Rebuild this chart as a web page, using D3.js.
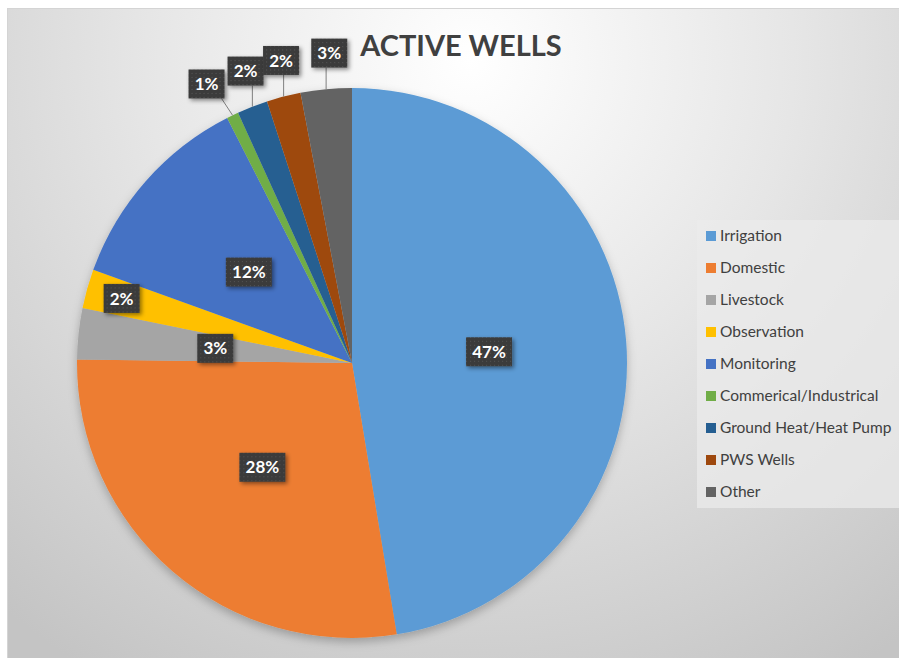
<!DOCTYPE html>
<html>
<head>
<meta charset="utf-8">
<script src="https://cdn.jsdelivr.net/npm/d3@7"></script>
<style>
  html, body { margin: 0; padding: 0; background: #fff; }
  svg { display: block; }
</style>
</head>
<body>
<div id="chart"></div>
<script>
// data (shares in %)
const categories = ["Irrigation", "Domestic", "Livestock", "Observation", "Monitoring",
  "Commerical/Industrical", "Ground Heat/Heat Pump", "PWS Wells", "Other"];
const shares = [47.4, 27.8, 3.0, 2.3, 12.0, 0.7, 1.8, 2.0, 3.0];
const labelTexts = ["47%", "28%", "3%", "2%", "12%", "1%", "2%", "2%", "3%"];
const colors = ["#5B9BD5", "#ED7D31", "#A5A5A5", "#FFC000", "#4472C4",
  "#70AD47", "#255E91", "#9E480E", "#636363"];
// where excel put each data label
const labelPlacement = ["in", "in", "in", "edge", "in", "out", "out", "out", "out"];

const W = 899, H = 658;
const cx = 352, cy = 363, R = 275;

const svg = d3.select("#chart").append("svg")
  .attr("width", W).attr("height", H);

const defs = svg.append("defs");

const bg = defs.append("radialGradient").attr("id", "bg")
  .attr("gradientUnits", "userSpaceOnUse")
  .attr("cx", 470).attr("cy", 60).attr("r", 720);
bg.append("stop").attr("offset", "0%").attr("stop-color", "#ffffff");
bg.append("stop").attr("offset", "45%").attr("stop-color", "#e6e6e6");
bg.append("stop").attr("offset", "100%").attr("stop-color", "#c4c4c4");

const shadow = defs.append("filter").attr("id", "shadow")
  .attr("x", "-20%").attr("y", "-20%").attr("width", "150%").attr("height", "150%");
shadow.append("feDropShadow").attr("dx", 2).attr("dy", 2)
  .attr("stdDeviation", 2).attr("flood-color", "#000").attr("flood-opacity", 0.45);

const pieShadow = defs.append("filter").attr("id", "pieShadow")
  .attr("x", "-10%").attr("y", "-10%").attr("width", "120%").attr("height", "125%");
pieShadow.append("feDropShadow").attr("dx", 0).attr("dy", 4)
  .attr("stdDeviation", 5).attr("flood-color", "#000").attr("flood-opacity", 0.25);

// dotted texture of the label boxes
const pat = defs.append("pattern").attr("id", "dots")
  .attr("width", 4).attr("height", 4).attr("patternUnits", "userSpaceOnUse");
pat.append("rect").attr("width", 4).attr("height", 4).attr("fill", "#3b3b3b");
pat.append("rect").attr("x", 1).attr("y", 1).attr("width", 1).attr("height", 1).attr("fill", "#555");

// chart area
svg.append("rect")
  .attr("x", 7.5).attr("y", 8.5).attr("width", W).attr("height", H)
  .attr("fill", "url(#bg)").attr("stroke", "#d4d4d4");

// title
svg.append("text")
  .attr("x", 461).attr("y", 56)
  .attr("text-anchor", "middle")
  .style("font-family", "Lato, 'Open Sans', sans-serif")
  .style("font-weight", "700")
  .style("font-size", "29px")
  .attr("fill", "#404040")
  .text("ACTIVE WELLS");

const pie = d3.pie().sort(null).value(d => d);
const arcs = pie(shares);
const arc = d3.arc().innerRadius(0).outerRadius(R);

const g = svg.append("g").attr("transform", `translate(${cx},${cy})`);

g.append("g").attr("filter", "url(#pieShadow)")
  .selectAll("path")
  .data(arcs)
  .enter()
  .append("path")
  .attr("d", arc)
  .attr("fill", (d, i) => colors[i]);

// label positions
const mid = d => (d.startAngle + d.endAngle) / 2;
const polar = (a, r) => [Math.sin(a) * r, -Math.cos(a) * r];

const boxH = 29;
const boxW = t => t.length * 10 + 16;

let labels = arcs.map((d, i) => {
  const mode = labelPlacement[i];
  const r = mode === "in" ? R * 0.5 : mode === "edge" ? R * 0.87 : R * 1.13;
  const a = mode === "out" ? mid(d) + 0.021 : mid(d);
  const p = polar(a, r);
  return { i, mode, text: labelTexts[i], x: p[0], y: p[1], w: boxW(labelTexts[i]), a: mid(d) };
});

// push outside labels apart (right to left)
const outs = labels.filter(l => l.mode === "out").sort((a, b) => b.x - a.x);
for (let k = 1; k < outs.length; k++) {
  const prev = outs[k - 1], cur = outs[k];
  const maxX = prev.x - prev.w / 2 - cur.w / 2 + 3;
  if (cur.x > maxX) {
    cur.y += (cur.x - maxX) * 0.35;
    cur.x = maxX - 6;
  }
}

// leader lines
g.append("g").selectAll("line")
  .data(labels.filter(l => l.mode === "out"))
  .enter()
  .append("line")
  .attr("x1", l => {
    const p = polar(l.a, R);
    return Math.max(l.x - l.w / 2 + 3, Math.min(l.x + l.w / 2 - 3, p[0]));
  })
  .attr("y1", l => l.y + boxH / 2)
  .attr("x2", l => polar(l.a, R)[0])
  .attr("y2", l => polar(l.a, R)[1])
  .attr("stroke", "#7f7f7f")
  .attr("stroke-width", 1);

const lab = g.append("g").selectAll("g")
  .data(labels)
  .enter()
  .append("g")
  .attr("transform", l => `translate(${l.x},${l.y})`);

lab.append("rect")
  .attr("x", l => -l.w / 2).attr("y", -boxH / 2)
  .attr("width", l => l.w).attr("height", boxH)
  .attr("fill", "url(#dots)")
  .attr("filter", "url(#shadow)");

lab.append("text")
  .attr("text-anchor", "middle")
  .attr("dy", "0.36em")
  .style("font-family", "Lato, 'Open Sans', sans-serif")
  .style("font-weight", "700")
  .style("font-size", "17px")
  .attr("fill", "#fff")
  .text(l => l.text);

// legend
const legend = svg.append("g");
legend.append("rect")
  .attr("x", 697).attr("y", 220).attr("width", 205).attr("height", 288)
  .attr("fill", "#ebebeb").attr("fill-opacity", 0.75);

const rowY = d3.scalePoint().domain(categories).range([236, 492]);

const item = legend.selectAll("g.item")
  .data(categories)
  .enter()
  .append("g")
  .attr("class", "item")
  .attr("transform", d => `translate(706,${rowY(d)})`);

item.append("rect")
  .attr("x", 0).attr("y", -5).attr("width", 10).attr("height", 10)
  .attr("fill", (d, i) => colors[i]);

item.append("text")
  .attr("x", 14).attr("dy", "0.35em")
  .style("font-family", "Lato, 'Open Sans', sans-serif")
  .style("font-size", "15.5px")
  .attr("fill", "#404040")
  .text(d => d);
</script>
</body>
</html>
